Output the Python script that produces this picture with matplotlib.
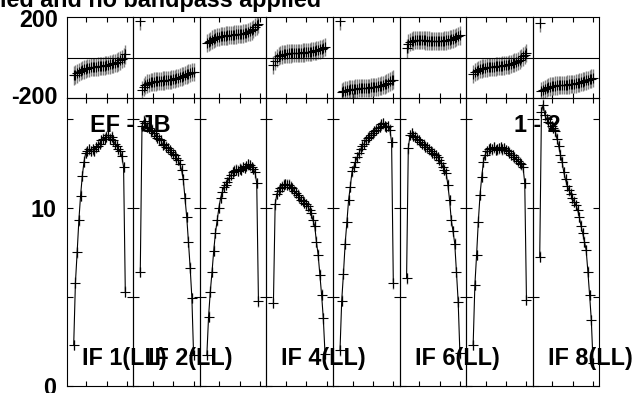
import numpy as np
import matplotlib
matplotlib.use('Agg')
import matplotlib.pyplot as plt

plt.rcParams['font.family'] = ['Liberation Sans', 'DejaVu Sans']
plt.rcParams['font.weight'] = 'bold'

nan = np.nan

# canais de cada IF (32 canais)
canais = np.arange(1, 33)

# amplitude por IF
amp_if1 = [2.3, 5.8, 7.5, 9.3, 10.7, 11.8, 12.6, 13.1, 13.2, 13.3, 13.2, 13.3, 13.2, 13.4, 13.5, 13.6,
           13.8, 13.9, 13.9, 14.0, 14.1, 13.9, 14.0, 13.8, 13.6, 13.5, 13.3, 13.2, 12.9, 12.3, 5.3, nan]
amp_if2 = [6.4, 14.6, 14.9, 14.8, 14.55, 14.5, 14.3, 14.4, 14.2, 14.05, 13.95, 13.85, 13.8, 13.55, 13.6, 13.45,
           13.35, 13.25, 13.15, 13.05, 12.95, 12.8, 12.7, 12.45, 12.15, 11.6, 10.55, 9.5, 8.1, 6.65, 4.95, 1.74]
amp_if3 = [1.74, 3.9, 5.3, 6.4, 7.6, 8.6, 9.3, 10.0, 10.56, 10.9, 11.2, 11.3, 11.45, 11.7, 11.85, 12.0,
           12.1, 12.15, 12.1, 12.2, 12.15, 12.3, 12.25, 12.35, 12.45, 12.4, 12.3, 12.2, 12.0, 11.4, 4.76, nan]
amp_if4 = [4.66, 10.2, 10.8, 10.95, 11.1, 11.2, 11.3, 11.35, 11.3, 11.3, 11.2, 11.1, 10.95, 10.85, 10.75, 10.6,
           10.45, 10.4, 10.3, 10.2, 10.1, 9.9, 9.7, 9.3, 9.0, 8.1, 7.37, 6.25, 5.13, 3.8, 1.8, nan]
amp_if5 = [2.0, 4.8, 6.3, 8.0, 9.2, 10.45, 11.2, 12.05, 12.3, 12.6, 12.85, 13.07, 13.3, 13.5, 13.6, 13.8,
           13.95, 14.0, 14.1, 14.2, 14.3, 14.4, 14.5, 14.57, 14.7, 14.76, 14.6, 14.55, 14.6, 14.4, 13.7, 5.77]
amp_if6 = [6.05, 13.35, 14.1, 14.2, 14.05, 14.0, 13.85, 13.8, 13.7, 13.6, 13.55, 13.45, 13.4, 13.3, 13.2, 13.1,
           13.05, 12.95, 12.85, 12.7, 12.55, 12.3, 12.15, 11.95, 11.3, 10.45, 9.3, 8.7, 8.0, 6.4, 4.74, 1.84]
amp_if7 = [2.3, 5.67, 7.36, 9.23, 10.73, 11.76, 12.6, 12.98, 13.2, 13.3, 13.35, 13.3, 13.4, 13.25, 13.3, 13.35,
           13.4, 13.3, 13.35, 13.25, 13.2, 13.1, 13.0, 12.95, 12.85, 12.75, 12.65, 12.55, 12.45, 12.3, 11.4, 4.83]
amp_if8 = [7.27, 15.4, 15.8, 15.2, 15.0, 14.85, 14.75, 14.6, 14.5, 14.3, 13.9, 13.5, 13.0, 12.6, 12.0, 11.6,
           11.25, 11.0, 10.8, 10.55, 10.35, 10.17, 9.9, 9.5, 9.0, 8.58, 8.1, 7.64, 6.42, 5.11, 3.7, 1.3]

# fase por IF (graus)
fase_if1 = [-88, -84, -78, -72, -67, -62, -58, -55, -52, -50, -48, -47, -46, -45, -44, -43,
            -42, -41, -40, -38, -36, -34, -32, -29, -27, -24, -20, -14, -8, 0, 15, nan]
fase_if2 = [180, -160, -145, -135, -128, -124, -121, -119, -118, -117, -116, -115, -114, -113, -112, -111,
            -110, -109, -108, -106, -104, -102, -100, -97, -94, -91, -87, -83, -79, -75, -72, -70]
fase_if3 = [70, 76, 82, 88, 93, 97, 100, 102, 104, 105, 106, 107, 108, 109, 110, 111,
            112, 113, 114, 115, 116, 117, 119, 121, 124, 128, 133, 140, 148, 157, 165, nan]
fase_if4 = [-37, -15, -2, 6, 11, 14, 16, 18, 19, 20, 20, 21, 21, 22, 22, 23,
            23, 24, 25, 26, 27, 28, 29, 31, 33, 35, 37, 40, 43, 46, 50, nan]
fase_if5 = [178, -170, -165, -162, -159, -157, -155, -154, -153, -152, -152, -151, -151, -150, -150, -149,
            -149, -148, -147, -146, -145, -144, -142, -140, -138, -135, -132, -128, -123, -117, -112, -108]
fase_if6 = [45, 68, 75, 80, 83, 85, 86, 86, 86, 85, 85, 84, 83, 83, 82, 82,
            81, 81, 81, 81, 82, 82, 83, 84, 86, 88, 90, 93, 96, 100, 104, 108]
fase_if7 = [-80, -72, -66, -61, -57, -54, -52, -50, -49, -48, -47, -46, -45, -44, -43, -42,
            -41, -40, -39, -38, -36, -34, -31, -28, -25, -21, -16, -10, -3, 5, 13, 22]
fase_if8 = [168, -165, -158, -153, -149, -146, -143, -141, -139, -138, -137, -136, -135, -135, -134, -134,
            -133, -132, -131, -130, -129, -127, -125, -123, -121, -118, -115, -112, -109, -106, -103, -100]

amplitudes = [amp_if1, amp_if2, amp_if3, amp_if4, amp_if5, amp_if6, amp_if7, amp_if8]
fases = [fase_if1, fase_if2, fase_if3, fase_if4, fase_if5, fase_if6, fase_if7, fase_if8]
erro_amp = 0.3
erro_fase = 45

rotulos_if = {0: 'IF 1(LL)', 1: 'IF 2(LL)', 3: 'IF 4(LL)', 5: 'IF 6(LL)', 7: 'IF 8(LL)'}
titulo = 'ied and no bandpass applied'
base = 'EF - JB'
stokes = '1 - 2'

# layout em pixels (636 x 393)
W, H = 636, 393
esq, dir_ = 66.7, 599.3
topo_f, meio, fundo = 16.7, 98.3, 386.0
larg = (dir_ - esq) / 8

# eixo x em canais
x0 = 1 - 7 / 1.72
x1 = x0 + larg / 1.72
xticks = x0 + np.array([0.294, 0.600, 0.906]) * (x1 - x0)

fig = plt.figure(figsize=(6.36, 3.93), dpi=100)

for i in range(8):
    l = (esq + i * larg) / W
    w = larg / W
    ax_f = fig.add_axes([l, 1 - meio / H, w, (meio - topo_f) / H])
    ax_a = fig.add_axes([l, 1 - fundo / H, w, (fundo - meio) / H])

    # fase
    ax_f.errorbar(canais, fases[i], yerr=erro_fase, fmt='none', ecolor='#808080', elinewidth=1.0)
    ax_f.plot(canais, fases[i], '+', color='k', ms=7, mew=0.8)
    ax_f.axhline(0, color='k', lw=0.8)
    ax_f.set_ylim(-200, 200)
    ax_f.set_xlim(x0, x1)
    ax_f.set_xticks(xticks)
    ax_f.set_xticklabels([])
    ax_f.set_yticks([])
    ax_f.tick_params(axis='x', direction='in', top=True, bottom=True, length=3.5, width=0.8)

    # amplitude
    ax_a.errorbar(canais, amplitudes[i], yerr=erro_amp, fmt='none', ecolor='#808080', elinewidth=1.0)
    ax_a.plot(canais, amplitudes[i], '-', color='k', lw=0.8)
    ax_a.plot(canais, amplitudes[i], '+', color='k', ms=7, mew=0.8)
    ax_a.set_ylim(0, 16.16)
    ax_a.set_xlim(x0, x1)
    ax_a.set_xticks(xticks)
    ax_a.set_xticklabels([])
    ax_a.set_yticks([0, 5, 10, 15])
    if i == 0:
        ax_a.set_yticklabels(['0', '', '10', ''], fontsize=16.8, fontweight='bold')
    else:
        ax_a.set_yticklabels([])
    ax_a.tick_params(axis='x', direction='in', top=True, bottom=True, length=3.5, width=0.8)
    ax_a.tick_params(axis='y', direction='in', left=True, right=True, length=4, width=0.8, pad=7.7)

    for ax in (ax_f, ax_a):
        for s in ax.spines.values():
            s.set_linewidth(0.8)
        ax.set_facecolor('none')

    if i in rotulos_if:
        fig.text((esq + i * larg + 15) / W, 1 - 365 / H, rotulos_if[i],
                 fontsize=16.8, fontweight='bold', ha='left', va='baseline')

# rotulos de fase (+-200)
fig.text(57.7 / W, 1 - 20.3 / H, '200', fontsize=16.8, fontweight='bold', ha='right', va='center')
fig.text(57.7 / W, 1 - 97.5 / H, '-200', fontsize=16.8, fontweight='bold', ha='right', va='center')

fig.text(321 / W, 1 - 6.5 / H, titulo, fontsize=16.8, fontweight='bold', ha='right', va='baseline')
fig.text(90 / W, 1 - 131.7 / H, base, fontsize=16.8, fontweight='bold', ha='left', va='baseline')
fig.text(514.3 / W, 1 - 131.7 / H, stokes, fontsize=16.8, fontweight='bold', ha='left', va='baseline')

fig.savefig('out.png', dpi=100)
